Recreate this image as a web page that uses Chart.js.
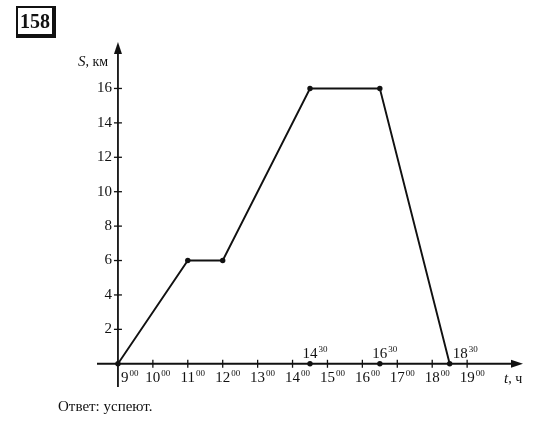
<!DOCTYPE html>
<html lang="ru">
<head>
<meta charset="UTF-8">
<title>158</title>
<script src="https://cdn.jsdelivr.net/npm/chart.js"></script>
<style>
  body { margin: 0; background: #fff; }
  #wrap { position: relative; width: 550px; height: 444px; }
  #box158 { position: absolute; left: 16px; top: 6px; width: 34px; height: 26px; border: 2px solid #111; border-right-width: 4px; border-bottom-width: 4px;
    font: bold 20px "Liberation Serif", serif; color: #111; text-align: center; line-height: 26px; }
  #answer { position: absolute; left: 58px; top: 398px; font: 15px "Liberation Serif", serif; color: #111; }
</style>
</head>
<body>
<div id="wrap">
  <canvas id="c" width="550" height="444"></canvas>
  <div id="box158">158</div>
  <div id="answer">Ответ: успеют.</div>
</div>
<script>
// path of the trip: time (hours) and distance (km)
const times = [9, 11, 12, 14.5, 16.5, 18.5];
const distances = [0, 6, 6, 16, 16, 0];
// marked moments on the time axis
const markTimes = [14.5, 16.5];
const markLabels = ['14', '16', '18'];
const markLabelTimes = [14.5, 16.5, 18.5];
// axis ticks
const hourTicks = [9, 10, 11, 12, 13, 14, 15, 16, 17, 18, 19];
const distTicks = [2, 4, 6, 8, 10, 12, 14, 16];

const ink = '#111';
const serif = '"Liberation Serif", "DejaVu Serif", serif';

function supText(ctx, base, sup, x, y, align) {
  ctx.font = '15px ' + serif;
  const w = ctx.measureText(base).width;
  let left = align === 'center' ? x - w / 2 : x;
  ctx.textAlign = 'left';
  ctx.textBaseline = 'alphabetic';
  ctx.fillText(base, left, y);
  ctx.font = '9px ' + serif;
  ctx.fillText(sup, left + w + 1, y - 6);
}

const axesPlugin = {
  id: 'axes',
  beforeDatasetsDraw(chart) {
    const ctx = chart.ctx;
    const xs = chart.scales.x, ys = chart.scales.y;
    const x0 = xs.getPixelForValue(9), y0 = ys.getPixelForValue(0);
    const area = chart.chartArea;
    ctx.save();
    ctx.strokeStyle = ink;
    ctx.fillStyle = ink;
    ctx.lineWidth = 1.8;
    // x axis
    ctx.beginPath();
    ctx.moveTo(area.left, y0);
    ctx.lineTo(area.right - 6, y0);
    ctx.stroke();
    ctx.beginPath();
    ctx.moveTo(area.right, y0);
    ctx.lineTo(area.right - 12, y0 - 4);
    ctx.lineTo(area.right - 12, y0 + 4);
    ctx.closePath();
    ctx.fill();
    // y axis
    ctx.beginPath();
    ctx.moveTo(x0, area.bottom);
    ctx.lineTo(x0, area.top + 6);
    ctx.stroke();
    ctx.beginPath();
    ctx.moveTo(x0, area.top);
    ctx.lineTo(x0 - 4, area.top + 12);
    ctx.lineTo(x0 + 4, area.top + 12);
    ctx.closePath();
    ctx.fill();

    ctx.lineWidth = 1.3;
    // hour ticks and labels
    hourTicks.forEach(h => {
      const px = xs.getPixelForValue(h);
      if (h !== 9) {
        ctx.beginPath();
        ctx.moveTo(px, y0 - 4);
        ctx.lineTo(px, y0 + 4);
        ctx.stroke();
        supText(ctx, String(h), '00', px, y0 + 18, 'center');
      } else {
        supText(ctx, String(h), '00', px + 3, y0 + 18, 'left');
      }
    });
    // distance ticks and labels
    ctx.font = '15px ' + serif;
    distTicks.forEach(d => {
      const py = ys.getPixelForValue(d);
      ctx.beginPath();
      ctx.moveTo(x0 - 4, py);
      ctx.lineTo(x0 + 4, py);
      ctx.stroke();
      ctx.textAlign = 'right';
      ctx.textBaseline = 'middle';
      ctx.fillText(String(d), x0 - 6, py);
    });
    // marked times above the axis
    markLabelTimes.forEach((t, i) => {
      const px = xs.getPixelForValue(t);
      if (i < 2) supText(ctx, markLabels[i], '30', px, y0 - 6, 'center');
      else supText(ctx, markLabels[i], '30', px + 3, y0 - 6, 'left');
    });
    // axis names
    ctx.textBaseline = 'alphabetic';
    ctx.textAlign = 'left';
    ctx.font = 'italic 15px ' + serif;
    ctx.fillText('S', 78, 66);
    let w = ctx.measureText('S').width;
    ctx.font = '14px ' + serif;
    ctx.fillText(', км', 78 + w, 66);
    ctx.font = 'italic 15px ' + serif;
    ctx.fillText('t', 504, y0 + 19);
    w = ctx.measureText('t').width;
    ctx.font = '14px ' + serif;
    ctx.fillText(', ч', 504 + w, y0 + 19);
    ctx.restore();
  }
};

new Chart(document.getElementById('c'), {
  type: 'scatter',
  data: {
    datasets: [
      {
        data: times.map((t, i) => ({ x: t, y: distances[i] })),
        showLine: true,
        borderColor: ink,
        backgroundColor: ink,
        borderWidth: 1.9,
        pointRadius: 2.7,
        pointBorderWidth: 0
      },
      {
        data: markTimes.map(t => ({ x: t, y: 0 })),
        showLine: false,
        backgroundColor: ink,
        pointRadius: 2.7,
        pointBorderWidth: 0
      }
    ]
  },
  options: {
    responsive: false,
    animation: false,
    events: [],
    layout: { padding: { left: 97, right: 27, top: 42, bottom: 57 } },
    plugins: { legend: { display: false }, tooltip: { enabled: false } },
    scales: {
      x: { type: 'linear', min: 8.4, max: 20.6, display: false },
      y: { type: 'linear', min: -1.35, max: 18.7, display: false }
    }
  },
  plugins: [axesPlugin]
});
</script>
</body>
</html>
